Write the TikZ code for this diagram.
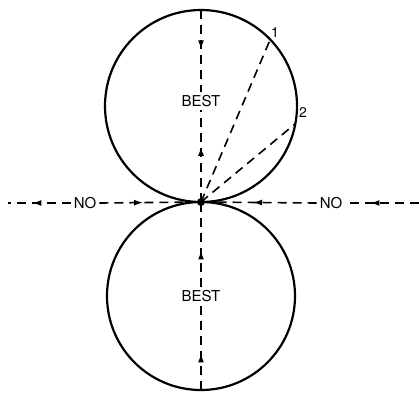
\documentclass[tikz,border=0pt]{standalone}
\usepackage{fontspec}
\setmainfont{TeX Gyre Heros}
\usetikzlibrary{arrows.meta,decorations.markings}

\tikzset{
  rim/.style={line width=2.2pt},
  ray/.style={line width=1.6pt, dash pattern=on 9pt off 6pt},
  headat/.style={postaction={decorate},
    decoration={markings, mark=at position #1 with {\arrow{Latex[length=9pt,width=6pt]}}}},
  word/.style={font=\fontsize{15}{17}\selectfont, inner sep=3pt},
  digit/.style={font=\fontsize{14}{16}\selectfont, inner sep=1pt}
}

\begin{document}
\begin{tikzpicture}[x=1pt,y=-1pt]
        \useasboundingbox (0,0) rectangle (419,392);
        % the two circles, touching at t
        \coordinate (cu) at (201,106);
        \coordinate (cl) at (201,296);
        \coordinate (t) at (201,202);
        \draw[rim] (cu) circle (96);
        \draw[rim] (cl) circle (94);
        \coordinate (top) at (201,10);
        \coordinate (bot) at (201,390);
        \coordinate (lend) at (8,203);
        \coordinate (rend) at (419,203);
        \coordinate (p1) at (270,40);
        \coordinate (p2) at (295,124);
        \node[word] (best1) at (201,101) {BEST};
        \node[word] (best2) at (201,296) {BEST};
        \node[word] (no1) at (85,203) {NO};
        \node[word] (no2) at (331,203) {NO};
        \node[digit] (n1) at (275,33) {1};
        \node[digit] (n2) at (303,113) {2};
        % vertical line
        \draw[ray, headat=0.48] (top) -- (best1.north);
        \draw[ray, headat=0.6] (t) -- (best1.south);
        \draw[ray, headat=0.43] (best2.north) -- (t);
        \draw[ray, headat=0.43] (bot) -- (best2.south);
        % horizontal line
        \draw[ray, headat=0.61] (no1.west) -- (lend);
        \draw[ray, headat=0.43] (no1.east) -- (t);
        \draw[ray, headat=0.55] (no2.west) -- (t);
        \draw[ray, headat=0.66] (rend) -- (no2.east);
        % rays to 1 and 2
        \draw[ray] (t) -- (p1);
        \draw[ray] (t) -- (p2);
        \fill (t) circle (4);
\end{tikzpicture}
\end{document}
